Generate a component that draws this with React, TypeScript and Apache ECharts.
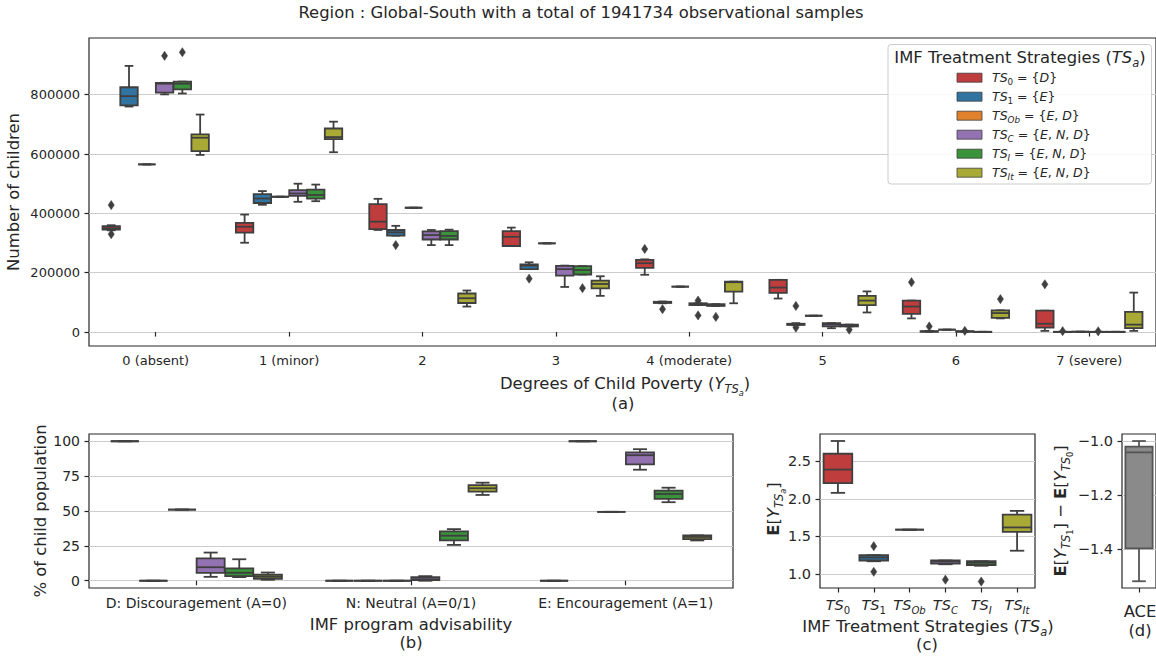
import React, { useEffect, useRef } from 'react';
import * as echarts from 'echarts';

const FONT = "'DejaVu Sans', 'Liberation Sans', sans-serif";
const TEXT = '#262626';
const EDGE = '#3f3f3f';
const GRIDLINE = '#cccccc';

// ---------- shared hue definitions ----------
const hueColors = ['#c03d3e', '#3274a1', '#e1812c', '#9372b2', '#3a923a', '#a9aa35'];
const hueSubs = ['0', '1', 'Ob', 'C', 'I', 'It'];
const hueSets = [['D'], ['E'], ['E', 'D'], ['E', 'N', 'D'], ['E', 'N', 'D'], ['E', 'N', 'D']];

// ---------- (a) degrees of child poverty: [min, q1, median, q3, max] ----------
const povertyCategories = ['0 (absent)', '1 (minor)', '2', '3', '4 (moderate)', '5', '6', '7 (severe)'];
const povertyTicks = [0, 200000, 400000, 600000, 800000];
const povertyTS0 = [
  [343000, 345000, 350000, 357000, 360000],
  [301000, 335000, 355000, 368000, 396000],
  [344000, 347000, 372000, 431000, 449000],
  [290000, 290000, 321000, 340000, 352000],
  [193000, 216000, 232000, 243000, 245000],
  [113000, 132000, 150000, 176000, 176000],
  [46000, 61000, 86000, 106000, 106000],
  [4000, 15000, 28000, 72000, 72000],
];
const povertyTS0Out = [[0, 428000], [0, 330000], [4, 280000], [6, 168000], [7, 161000]];
const povertyTS1 = [
  [760000, 764000, 795000, 825000, 897000],
  [429000, 435000, 450000, 465000, 475000],
  [325000, 325000, 336000, 344000, 358000],
  [212000, 212000, 224000, 228000, 235000],
  [97000, 98000, 100000, 102000, 103000],
  [23000, 24000, 26000, 28000, 30000],
  [1000, 1000, 2000, 3000, 4000],
  [0, 0, 500, 1000, 1000],
];
const povertyTS1Out = [[2, 293000], [3, 180000], [4, 77000], [5, 88000], [5, 15000], [6, 19000], [7, 3000]];
const povertyTSOb = [565000, 456000, 419000, 299000, 153000, 55000, 8000, 1000];
const povertyTSC = [
  [801000, 807000, 837000, 840000, 840000],
  [439000, 459000, 467000, 478000, 500000],
  [293000, 312000, 327000, 339000, 344000],
  [152000, 190000, 212000, 223000, 224000],
  [91000, 91000, 94000, 97000, 97000],
  [13000, 19000, 26000, 30000, 30000],
  [1000, 1000, 2000, 3000, 3000],
  [0, 0, 500, 1000, 1000],
];
const povertyTSCOut = [[0, 931000], [4, 106000], [4, 56000], [6, 4000], [7, 2500]];
const povertyTSI = [
  [804000, 818000, 837000, 844000, 844000],
  [441000, 450000, 462000, 480000, 497000],
  [293000, 312000, 324000, 340000, 345000],
  [194000, 194000, 209000, 222000, 222000],
  [88000, 88000, 91000, 94000, 94000],
  [19000, 19000, 22000, 25000, 25000],
  [0, 0, 500, 1000, 1000],
  [0, 0, 500, 1000, 1000],
];
const povertyTSIOut = [[0, 943000], [3, 148000], [4, 51000], [5, 8000]];
const povertyTSIt = [
  [597000, 610000, 655000, 666000, 733000],
  [606000, 650000, 657000, 686000, 709000],
  [86000, 98000, 114000, 130000, 140000],
  [122000, 147000, 162000, 173000, 188000],
  [97000, 136000, 168000, 170000, 170000],
  [66000, 91000, 106000, 122000, 137000],
  [46000, 48000, 64000, 73000, 73000],
  [4000, 13000, 25000, 68000, 133000],
];
const povertyTSItOut = [[6, 111000]];

// ---------- (b) IMF program advisability (% of child population) ----------
const advCategories = ['D: Discouragement (A=0)', 'N: Neutral (A=0/1)', 'E: Encouragement (A=1)'];
const advTicks = [0, 25, 50, 75, 100];
const advTS0 = [[100, 100, 100, 100, 100], [0, 0, 0, 0, 0], [0, 0, 0, 0, 0]];
const advTS1 = [[0, 0, 0, 0, 0], [0, 0, 0, 0, 0], [100, 100, 100, 100, 100]];
const advTSOb = [[51, 51, 51, 51, 51], [0, 0, 0, 0, 0], [49.4, 49.4, 49.4, 49.4, 49.4]];
const advTSC = [[2.8, 5.7, 9.7, 16.1, 20.2], [0, 0.5, 1.0, 2.5, 3.3], [79.6, 83.4, 90, 92, 94.3]];
const advTSI = [[2.6, 3.3, 5.7, 8.8, 15.4], [25.7, 29, 32.3, 35.4, 37], [56.3, 58.7, 62.2, 64.6, 66.7]];
const advTSIt = [[0.7, 1.4, 2.8, 4.3, 5.9], [61.5, 63.9, 66.3, 68.6, 70.3], [28.9, 29.9, 31.4, 32.5, 32.5]];

// ---------- (c) expected poverty degree per strategy ----------
const expTicks = [1.0, 1.5, 2.0, 2.5];
const expBoxes = [
  [2.08, 2.21, 2.39, 2.6, 2.77],
  [1.17, 1.18, 1.22, 1.25, 1.25],
  [1.59, 1.59, 1.59, 1.59, 1.59],
  [1.13, 1.14, 1.17, 1.18, 1.18],
  [1.11, 1.12, 1.15, 1.17, 1.17],
  [1.31, 1.56, 1.62, 1.79, 1.84],
];
const expOutliers = [[1, 1.37], [1, 1.03], [3, 0.925], [4, 0.9]];

// ---------- (d) ACE ----------
const aceCategories = ['ACE'];
const aceTicks = [-1.4, -1.2, -1.0];
const aceBox = [[-1.519, -1.397, -1.042, -1.021, -1.0]];

// ---------- helpers ----------
const rich = (fs: number) => {
  const base = { fontFamily: FONT, fill: TEXT, color: TEXT };
  return {
    n: { ...base, fontSize: fs, lineHeight: fs * 1.4 },
    it: { ...base, fontSize: fs, fontStyle: 'italic', lineHeight: fs * 1.4 },
    b: { ...base, fontSize: fs, fontWeight: 'bold', lineHeight: fs * 1.4 },
    sub: { ...base, fontSize: fs * 0.7, fontStyle: 'italic', height: fs * 0.69, lineHeight: fs * 0.69, verticalAlign: 'bottom' },
    subn: { ...base, fontSize: fs * 0.7, height: fs * 0.69, lineHeight: fs * 0.69, verticalAlign: 'bottom' },
    ss: { ...base, fontSize: fs * 0.5, fontStyle: 'italic', height: fs * 0.2, lineHeight: fs * 0.2, verticalAlign: 'bottom' },
    ssn: { ...base, fontSize: fs * 0.5, height: fs * 0.2, lineHeight: fs * 0.2, verticalAlign: 'bottom' },
  };
};
const subTok = (s: string) => (/^\d+$/.test(s) ? `{subn|${s}}` : `{sub|${s}}`);
const tsLabel = (s: string) => `{it|TS}${subTok(s)}`;

const rows = (arr: number[][]) => arr.map((b, i) => [i, ...b]);
const flatRows = (arr: number[]) => arr.map((v, i) => [i, v, v, v, v, v]);

const boxRenderer = (hue: number, nHue: number, fills: string | string[], edge: string, lw: number) =>
  (params: any, api: any) => {
    const ci = api.value(0) as number;
    const band = api.size([1, 0])[0];
    const slot = (band * 0.8) / nHue;
    const cx = api.coord([ci, 0])[0] + (hue - (nHue - 1) / 2) * slot;
    const bw = nHue > 1 ? slot * 0.98 : slot;
    const y = (i: number) => api.coord([ci, api.value(i)])[1];
    const lo = y(1), q1 = y(2), md = y(3), q3 = y(4), hi = y(5);
    const cap = bw / 4;
    const fill = Array.isArray(fills) ? fills[ci] : fills;
    const ls = { stroke: edge, lineWidth: lw };
    return {
      type: 'group',
      children: [
        { type: 'line', shape: { x1: cx, y1: q1, x2: cx, y2: lo }, style: ls },
        { type: 'line', shape: { x1: cx, y1: q3, x2: cx, y2: hi }, style: ls },
        { type: 'line', shape: { x1: cx - cap, y1: lo, x2: cx + cap, y2: lo }, style: ls },
        { type: 'line', shape: { x1: cx - cap, y1: hi, x2: cx + cap, y2: hi }, style: ls },
        { type: 'rect', shape: { x: cx - bw / 2, y: q3, width: bw, height: Math.max(q1 - q3, 0) }, style: { fill, stroke: edge, lineWidth: lw } },
        { type: 'line', shape: { x1: cx - bw / 2, y1: md, x2: cx + bw / 2, y2: md }, style: ls },
      ],
    };
  };

const outlierRenderer = (nHue: number) => (params: any, api: any) => {
  const ci = api.value(0) as number;
  const hue = api.value(2) as number;
  const band = api.size([1, 0])[0];
  const slot = (band * 0.8) / nHue;
  const p = api.coord([ci, api.value(1)]);
  const cx = p[0] + (hue - (nHue - 1) / 2) * slot;
  const cy = p[1];
  return {
    type: 'polygon',
    shape: { points: [[cx, cy - 4.6], [cx + 3.1, cy], [cx, cy + 4.6], [cx - 3.1, cy]] },
    style: { fill: EDGE, stroke: EDGE, lineWidth: 0.5 },
  };
};

const boxSeries = (idx: number, data: number[][], hue: number, nHue: number, fills: string | string[], edge = EDGE, lw = 1.8) => ({
  type: 'custom',
  xAxisIndex: idx,
  yAxisIndex: idx,
  data,
  encode: { x: 0, y: [1, 2, 3, 4, 5] },
  renderItem: boxRenderer(hue, nHue, fills, edge, lw),
  z: 3,
  silent: true,
});
const outSeries = (idx: number, data: number[][], nHue: number) => ({
  type: 'custom',
  xAxisIndex: idx,
  yAxisIndex: idx,
  data,
  encode: { x: 0, y: 1 },
  renderItem: outlierRenderer(nHue),
  z: 4,
  silent: true,
});

const tickStyle = { color: TEXT, width: 1.2 };
const catAxis = (gridIndex: number, data: string[], fs: number) => ({
  type: 'category',
  gridIndex,
  data,
  boundaryGap: true,
  axisLine: { show: false },
  axisTick: { show: true, alignWithLabel: true, length: 4.5, lineStyle: tickStyle },
  axisLabel: { show: true, interval: 0, fontSize: fs, fontFamily: FONT, color: TEXT, margin: 8 },
  splitLine: { show: false },
});
const valAxis = (gridIndex: number, min: number, max: number, step: number, ticks: number[], fs: number, fmt: (v: number) => string) => ({
  type: 'value',
  gridIndex,
  min,
  max,
  minInterval: step,
  maxInterval: step,
  axisLine: { show: false },
  axisTick: { show: true, length: 4.5, lineStyle: tickStyle, customValues: ticks },
  axisLabel: { fontSize: fs, fontFamily: FONT, color: TEXT, margin: 9, formatter: fmt, customValues: ticks },
  splitLine: { show: true, lineStyle: { color: GRIDLINE, width: 1 } },
});

const txt = (x: number, y: number, text: string, fs: number, rot = 0, align = 'center') => ({
  type: 'text',
  x,
  y,
  rotation: rot,
  z: 100,
  silent: true,
  style: {
    text,
    fontSize: fs,
    fontFamily: FONT,
    fill: TEXT,
    align,
    verticalAlign: 'middle',
    lineHeight: fs * 1.4,
    rich: rich(fs),
  },
});

const buildOption = () => {
  const povertySets = [povertyTS0, povertyTS1, null, povertyTSC, povertyTSI, povertyTSIt];
  const povertyOuts = [povertyTS0Out, povertyTS1Out, [], povertyTSCOut, povertyTSIOut, povertyTSItOut];
  const advSets = [advTS0, advTS1, advTSOb, advTSC, advTSI, advTSIt];

  const series: any[] = [];
  povertySets.forEach((set, h) => {
    const data = set ? rows(set) : flatRows(povertyTSOb);
    series.push(boxSeries(0, data, h, 6, hueColors[h]));
  });
  const aOut: number[][] = [];
  povertyOuts.forEach((o, h) => o.forEach((p) => aOut.push([p[0], p[1], h])));
  series.push(outSeries(0, aOut, 6));

  advSets.forEach((set, h) => series.push(boxSeries(1, rows(set), h, 6, hueColors[h])));

  series.push(boxSeries(2, rows(expBoxes), 0, 1, hueColors));
  series.push(outSeries(2, expOutliers.map((p) => [p[0], p[1], 0]), 1));

  series.push(boxSeries(3, rows(aceBox), 0, 1, '#8a8a8a', '#555555', 1.8));

  const fsTick = 13;
  const fsTickB = 14;
  const fsTickBig = 14.5;
  const fsLab = 16.4;

  const graphic: any[] = [
    txt(581, 12.5, 'Region : Global-South with a total of 1941734 observational samples', 16.4),
    txt(625, 383, 'Degrees of Child Poverty ({it|Y}{sub|TS}{ss|a})', fsLab),
    txt(623, 403, '(a)', fsLab),
    txt(13.5, 192, 'Number of children', fsLab, Math.PI / 2),
    txt(40, 511, '% of child population', fsLab, Math.PI / 2),
    txt(411, 624, 'IMF program advisability', fsLab),
    txt(411, 642.5, '(b)', fsLab),
    txt(928, 626, 'IMF Treatment Strategies ({it|TS}{sub|a})', fsLab),
    txt(927, 644, '(c)', fsLab),
    txt(773, 509, '{b|E}[{it|Y}{sub|TS}{ss|a}]', fsLab, Math.PI / 2),
    txt(1060, 511, '{b|E}[{it|Y}{sub|TS}{ssn|1}] \u2212 {b|E}[{it|Y}{sub|TS}{ssn|0}]', fsLab, Math.PI / 2),
    txt(1140, 611.5, 'ACE', fsLab),
    txt(1140, 630.5, '(d)', fsLab),
    {
      type: 'rect',
      z: 100,
      silent: true,
      shape: { x: 888, y: 44.5, width: 263.5, height: 139.5, r: 3 },
      style: { fill: 'rgba(255,255,255,0.85)', stroke: '#cccccc', lineWidth: 1 },
    },
    txt(1020, 57, 'IMF Treatment Strategies ({it|TS}{sub|a})', fsLab),
  ];
  hueSubs.forEach((s, k) => {
    const cy = 77.7 + 19 * k;
    graphic.push({
      type: 'rect',
      z: 101,
      silent: true,
      shape: { x: 957, y: cy - 4.5, width: 25, height: 9 },
      style: { fill: hueColors[k], stroke: EDGE, lineWidth: 0.8 },
    });
    const set = '{' + hueSets[k].map((e) => `{it|${e}}`).join(', ') + '}';
    graphic.push(txt(992, cy, `${tsLabel(s)} = ${set}`, 12.5, 0, 'left'));
  });

  const gridBase = { show: true, borderColor: TEXT, borderWidth: 1.2, backgroundColor: 'transparent', containLabel: false };

  return {
    animation: false,
    backgroundColor: '#ffffff',
    grid: [
      { ...gridBase, left: 89, top: 38, width: 1070, height: 308 },
      { ...gridBase, left: 89, top: 434, width: 644, height: 154 },
      { ...gridBase, left: 820, top: 434, width: 215, height: 154 },
      { ...gridBase, left: 1122, top: 434, width: 37, height: 154 },
    ],
    xAxis: [
      catAxis(0, povertyCategories, fsTick),
      catAxis(1, advCategories, fsTickB),
      {
        ...catAxis(2, hueSubs, fsTickBig),
        axisLabel: {
          show: true,
          interval: 0,
          margin: 7,
          fontSize: fsTickBig,
          fontFamily: FONT,
          color: TEXT,
          lineHeight: fsTickBig * 1.4,
          formatter: (v: string) => tsLabel(v),
          rich: rich(fsTickBig),
        },
      },
      { ...catAxis(3, aceCategories, fsTickBig), axisLabel: { show: false } },
    ],
    yAxis: [
      valAxis(0, -47000, 991000, 200000, povertyTicks, fsTick, (v: number) => String(Math.round(v))),
      valAxis(1, -5.2, 105.2, 25, advTicks, fsTickB, (v: number) => String(Math.round(v))),
      valAxis(2, 0.814, 2.863, 0.5, expTicks, fsTickBig, (v: number) => v.toFixed(1)),
      valAxis(3, -1.544, -0.974, 0.2, aceTicks, fsTickBig, (v: number) => v.toFixed(1).replace('-', '\u2212')),
    ],
    series,
    graphic,
  };
};

export default function App() {
  const ref = useRef<HTMLDivElement>(null);
  useEffect(() => {
    if (!ref.current) return;
    const chart = echarts.init(ref.current, undefined, { renderer: 'svg' });
    chart.setOption(buildOption() as any);
    return () => chart.dispose();
  }, []);
  return (
    <div
      ref={ref}
      style={{ position: 'absolute', left: 0, top: 0, width: 1156, height: 656, background: '#fff' }}
    />
  );
}
